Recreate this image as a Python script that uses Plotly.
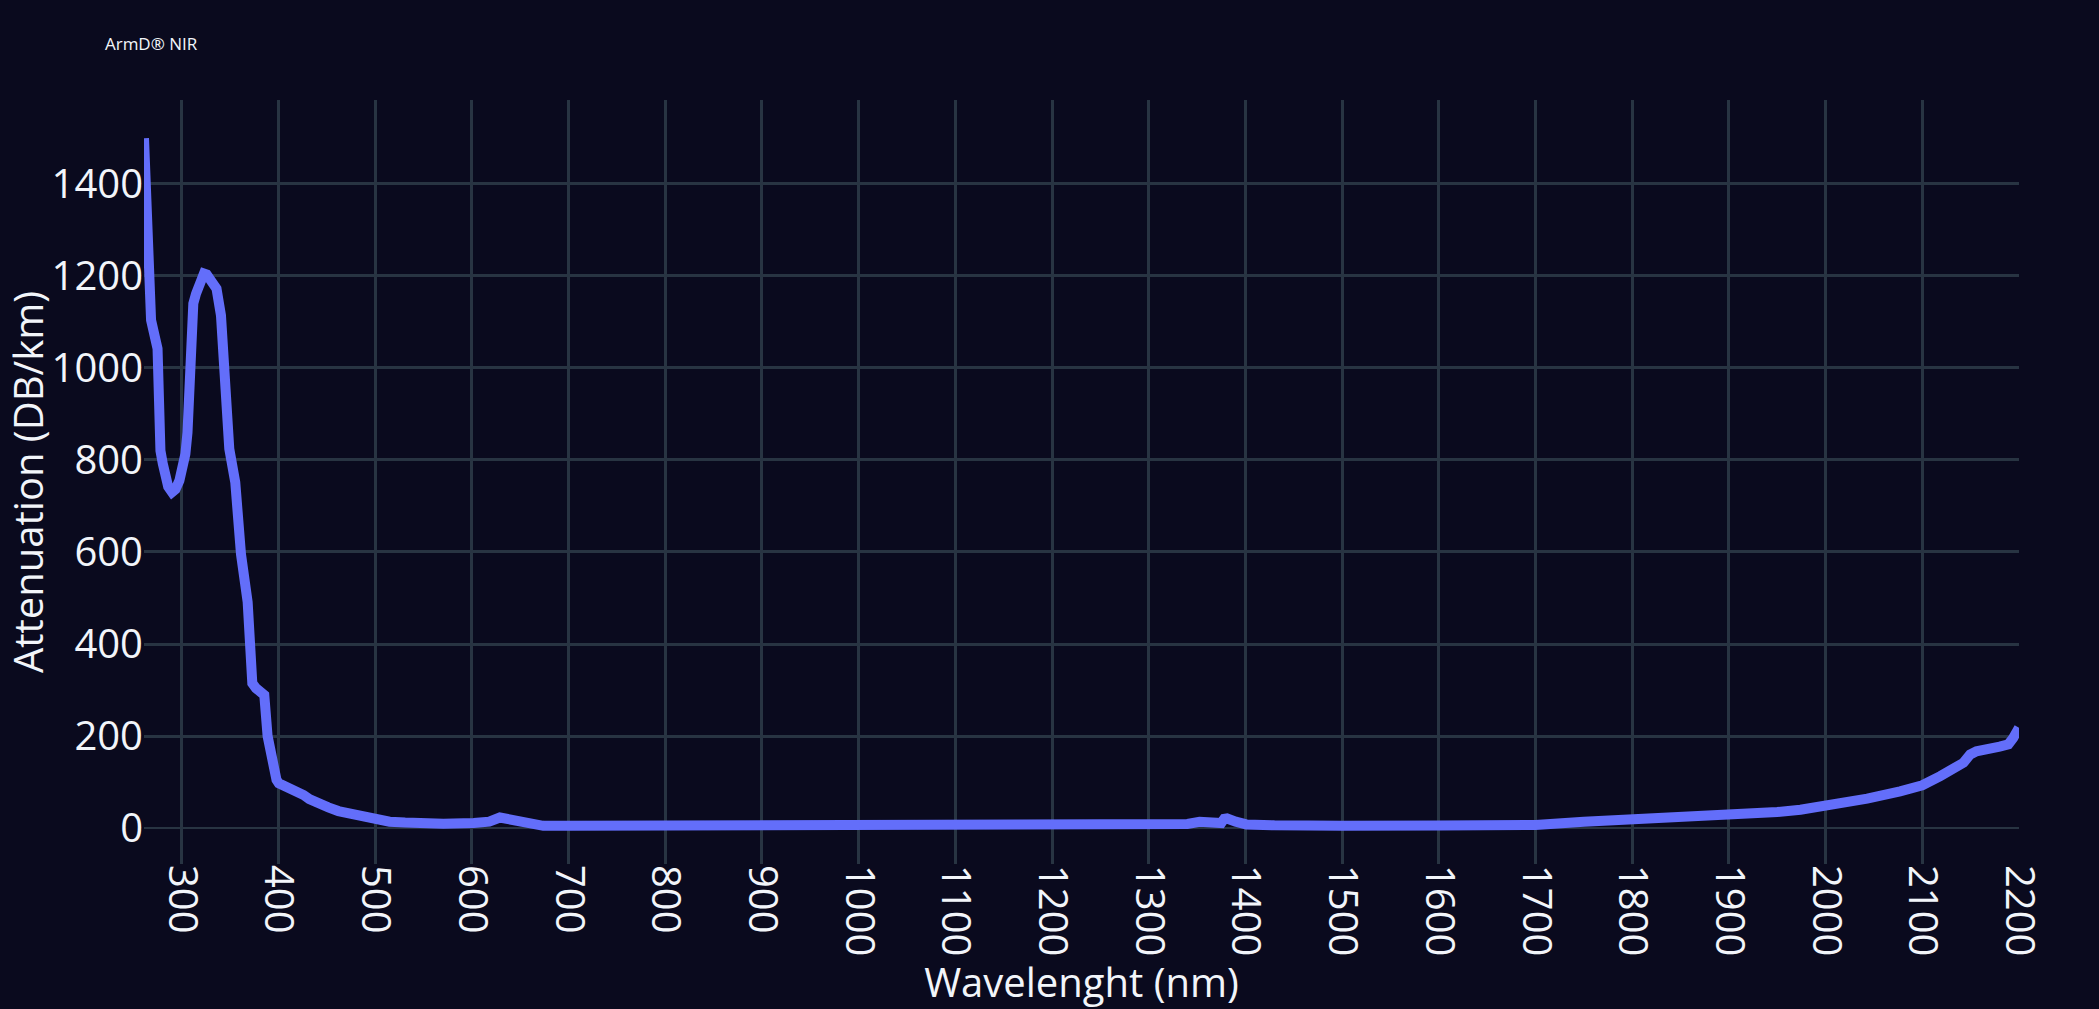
import plotly.graph_objects as go

wavelength_nm = [261, 266.6, 268.3, 275, 275.5, 278, 280.4, 283, 286, 290, 293.5, 297.6, 301,
                 303.8, 306, 307, 309.6, 312, 314.8, 320, 323, 325.8, 329, 331, 336, 340.6,
                 345.8, 349.2, 355.4, 361.3, 368.2, 371.6, 373, 376.8, 381, 385.4, 388.8, 394,
                 398, 400.4, 410, 418, 426, 432, 440, 451.6, 462, 475, 487, 493, 499, 515, 531,
                 550, 570.6, 602, 618, 629, 642, 654, 662, 674, 700, 800, 900, 1000,
                 1100, 1200, 1300, 1340, 1352.6, 1375, 1378, 1381, 1390, 1401, 1430, 1457,
                 1500, 1600, 1700, 1750, 1800, 1850, 1900, 1950, 1974, 2000, 2043, 2077,
                 2100, 2118.6, 2135.7, 2142.6, 2149.5, 2156, 2180, 2189, 2194, 2200]
attenuation_db_km = [1499, 1270, 1104, 1042, 865, 820, 792, 765, 742, 730, 736, 755, 785,
                     813, 860, 907, 1114, 1140, 1161, 1198, 1205, 1203, 1195, 1185, 1172, 1114,
                     979, 824, 751, 595, 491, 335, 315, 304, 296, 289, 200, 128,
                     105, 97.5, 90, 81, 72, 63, 54, 45, 37, 30, 28, 24, 18, 14, 12,
                     10, 9.4, 11, 14, 23, 17, 9.4, 8, 5, 5, 5, 5, 5,
                     5, 5, 6, 9, 13.7, 11, 20, 21, 14, 8, 6, 5,
                     5, 5.5, 7, 14, 19, 22, 26, 35, 40, 48, 64, 80,
                     93, 113, 133, 142, 160, 167, 177, 182, 196, 218]

x_ticks = list(range(300, 2201, 100))
y_ticks = list(range(0, 1401, 200))

BG = "#0a0a1e"
GRID = "#283442"

fig = go.Figure(
    go.Scatter(
        x=wavelength_nm,
        y=attenuation_db_km,
        mode="lines",
        line=dict(color="#636efa", width=10),
        showlegend=False,
    )
)

fig.update_layout(
    template="plotly_dark",
    width=2099,
    height=1009,
    paper_bgcolor=BG,
    plot_bgcolor=BG,
    font=dict(family="Open Sans, verdana, arial, sans-serif", color="#f2f5fa"),
    title=dict(text="ArmD® NIR", font=dict(size=17)),
    margin=dict(l=144, r=80, t=100, b=145),
    xaxis=dict(
        title=dict(text="Wavelenght (nm)", font=dict(size=40)),
        tickfont=dict(size=40),
        tickangle=90,
        tickvals=x_ticks,
        gridcolor=GRID,
        gridwidth=3,
        zeroline=False,
        automargin=False,
    ),
    yaxis=dict(
        title=dict(text="Attenuation (DB/km)", font=dict(size=40)),
        tickfont=dict(size=40),
        tickvals=y_ticks,
        gridcolor=GRID,
        gridwidth=3,
        zerolinecolor=GRID,
        zerolinewidth=2,
        automargin=False,
    ),
)

fig.write_html(
    "out.html",
    config={"displayModeBar": False},
    post_script="document.body.style.margin='0';document.body.style.overflow='hidden';"
    "document.body.style.background='" + BG + "';",
)
